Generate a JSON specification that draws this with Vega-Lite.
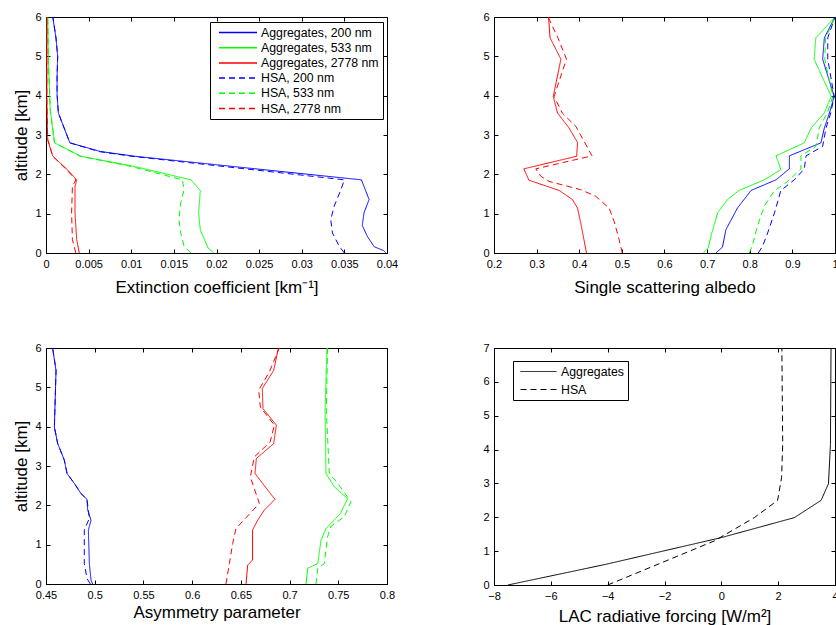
{
  "$schema": "https://vega.github.io/schema/vega-lite/v6.json",
  "padding": {"left": 12, "top": 10, "right": 0, "bottom": 0},
  "config": {
    "font": "Liberation Sans",
    "view": {"stroke": "black", "strokeWidth": 1},
    "axis": {
      "grid": false,
      "labelFont": "Liberation Sans",
      "labelFontSize": 11,
      "labelColor": "black",
      "titleFont": "Liberation Sans",
      "titleFontSize": 17,
      "titleFontWeight": "normal",
      "titleColor": "black",
      "tickColor": "black",
      "tickSize": -4,
      "domainColor": "black",
      "labelPadding": 9,
      "labelFlush": false,
      "labelOverlap": false
    },
    "axisX": {"titlePadding": 10},
    "legend": {
      "labelFont": "Liberation Sans",
      "labelColor": "black"
    }
  },
  "datasets": {
    "p1": [
      {"series": "Aggregates, 200 nm", "alt": 6, "v": 0.0008},
      {"series": "Aggregates, 200 nm", "alt": 5.47, "v": 0.00117},
      {"series": "Aggregates, 200 nm", "alt": 5.0, "v": 0.00137},
      {"series": "Aggregates, 200 nm", "alt": 4.49, "v": 0.0013},
      {"series": "Aggregates, 200 nm", "alt": 4.03, "v": 0.0013},
      {"series": "Aggregates, 200 nm", "alt": 3.56, "v": 0.00145},
      {"series": "Aggregates, 200 nm", "alt": 2.8, "v": 0.0028},
      {"series": "Aggregates, 200 nm", "alt": 2.58, "v": 0.0064},
      {"series": "Aggregates, 200 nm", "alt": 2.46, "v": 0.0104},
      {"series": "Aggregates, 200 nm", "alt": 1.86, "v": 0.037},
      {"series": "Aggregates, 200 nm", "alt": 1.36, "v": 0.0379},
      {"series": "Aggregates, 200 nm", "alt": 1.02, "v": 0.0373},
      {"series": "Aggregates, 200 nm", "alt": 0.7, "v": 0.0371},
      {"series": "Aggregates, 200 nm", "alt": 0.42, "v": 0.0377},
      {"series": "Aggregates, 200 nm", "alt": 0.16, "v": 0.0385},
      {"series": "Aggregates, 200 nm", "alt": 0.06, "v": 0.0396},
      {"series": "Aggregates, 200 nm", "alt": 0, "v": 0.0399},
      {"series": "Aggregates, 533 nm", "alt": 6, "v": 0.0002},
      {"series": "Aggregates, 533 nm", "alt": 4.75, "v": 0.0003},
      {"series": "Aggregates, 533 nm", "alt": 3.64, "v": 0.0005},
      {"series": "Aggregates, 533 nm", "alt": 2.8, "v": 0.001},
      {"series": "Aggregates, 533 nm", "alt": 2.46, "v": 0.0041},
      {"series": "Aggregates, 533 nm", "alt": 2.2, "v": 0.0104},
      {"series": "Aggregates, 533 nm", "alt": 1.86, "v": 0.017},
      {"series": "Aggregates, 533 nm", "alt": 1.59, "v": 0.0181},
      {"series": "Aggregates, 533 nm", "alt": 1.02, "v": 0.0179},
      {"series": "Aggregates, 533 nm", "alt": 0.59, "v": 0.0181},
      {"series": "Aggregates, 533 nm", "alt": 0.34, "v": 0.0186},
      {"series": "Aggregates, 533 nm", "alt": 0.13, "v": 0.019},
      {"series": "Aggregates, 533 nm", "alt": 0, "v": 0.0197},
      {"series": "Aggregates, 2778 nm", "alt": 6, "v": 0.0001},
      {"series": "Aggregates, 2778 nm", "alt": 3.9, "v": 0.0001},
      {"series": "Aggregates, 2778 nm", "alt": 2.88, "v": 0.0002},
      {"series": "Aggregates, 2778 nm", "alt": 2.46, "v": 0.0008},
      {"series": "Aggregates, 2778 nm", "alt": 2.12, "v": 0.0025},
      {"series": "Aggregates, 2778 nm", "alt": 1.86, "v": 0.0036},
      {"series": "Aggregates, 2778 nm", "alt": 1.69, "v": 0.0034},
      {"series": "Aggregates, 2778 nm", "alt": 1.02, "v": 0.0034},
      {"series": "Aggregates, 2778 nm", "alt": 0.34, "v": 0.0036},
      {"series": "Aggregates, 2778 nm", "alt": 0, "v": 0.0039},
      {"series": "HSA, 200 nm", "alt": 6, "v": 0.0008},
      {"series": "HSA, 200 nm", "alt": 5.47, "v": 0.00117},
      {"series": "HSA, 200 nm", "alt": 5.0, "v": 0.00137},
      {"series": "HSA, 200 nm", "alt": 4.49, "v": 0.0013},
      {"series": "HSA, 200 nm", "alt": 4.03, "v": 0.0013},
      {"series": "HSA, 200 nm", "alt": 3.56, "v": 0.00145},
      {"series": "HSA, 200 nm", "alt": 2.8, "v": 0.0028},
      {"series": "HSA, 200 nm", "alt": 2.58, "v": 0.0062},
      {"series": "HSA, 200 nm", "alt": 2.46, "v": 0.01},
      {"series": "HSA, 200 nm", "alt": 1.86, "v": 0.035},
      {"series": "HSA, 200 nm", "alt": 1.61, "v": 0.0346},
      {"series": "HSA, 200 nm", "alt": 1.19, "v": 0.0338},
      {"series": "HSA, 200 nm", "alt": 0.85, "v": 0.0334},
      {"series": "HSA, 200 nm", "alt": 0.51, "v": 0.0336},
      {"series": "HSA, 200 nm", "alt": 0.17, "v": 0.0344},
      {"series": "HSA, 200 nm", "alt": 0, "v": 0.035},
      {"series": "HSA, 533 nm", "alt": 6, "v": 0.0002},
      {"series": "HSA, 533 nm", "alt": 4.75, "v": 0.0003},
      {"series": "HSA, 533 nm", "alt": 3.64, "v": 0.0005},
      {"series": "HSA, 533 nm", "alt": 2.8, "v": 0.001},
      {"series": "HSA, 533 nm", "alt": 2.46, "v": 0.004},
      {"series": "HSA, 533 nm", "alt": 2.2, "v": 0.01},
      {"series": "HSA, 533 nm", "alt": 1.86, "v": 0.016},
      {"series": "HSA, 533 nm", "alt": 1.61, "v": 0.0162},
      {"series": "HSA, 533 nm", "alt": 1.27, "v": 0.0158},
      {"series": "HSA, 533 nm", "alt": 0.85, "v": 0.0156},
      {"series": "HSA, 533 nm", "alt": 0.51, "v": 0.0158},
      {"series": "HSA, 533 nm", "alt": 0.17, "v": 0.0162},
      {"series": "HSA, 533 nm", "alt": 0, "v": 0.017},
      {"series": "HSA, 2778 nm", "alt": 6, "v": 0.0001},
      {"series": "HSA, 2778 nm", "alt": 3.9, "v": 0.0001},
      {"series": "HSA, 2778 nm", "alt": 2.88, "v": 0.0002},
      {"series": "HSA, 2778 nm", "alt": 2.46, "v": 0.0008},
      {"series": "HSA, 2778 nm", "alt": 2.12, "v": 0.0024},
      {"series": "HSA, 2778 nm", "alt": 1.86, "v": 0.0035},
      {"series": "HSA, 2778 nm", "alt": 1.69, "v": 0.0031},
      {"series": "HSA, 2778 nm", "alt": 1.02, "v": 0.003},
      {"series": "HSA, 2778 nm", "alt": 0.34, "v": 0.0031},
      {"series": "HSA, 2778 nm", "alt": 0, "v": 0.0035}
    ],
    "p2": [
      {"series": "Aggregates, 2778 nm", "alt": 6, "v": 0.328},
      {"series": "Aggregates, 2778 nm", "alt": 5.47, "v": 0.3315},
      {"series": "Aggregates, 2778 nm", "alt": 4.93, "v": 0.357},
      {"series": "Aggregates, 2778 nm", "alt": 3.98, "v": 0.339},
      {"series": "Aggregates, 2778 nm", "alt": 3.56, "v": 0.349},
      {"series": "Aggregates, 2778 nm", "alt": 3.18, "v": 0.376},
      {"series": "Aggregates, 2778 nm", "alt": 2.81, "v": 0.396},
      {"series": "Aggregates, 2778 nm", "alt": 2.46, "v": 0.394},
      {"series": "Aggregates, 2778 nm", "alt": 2.14, "v": 0.27},
      {"series": "Aggregates, 2778 nm", "alt": 1.85, "v": 0.282},
      {"series": "Aggregates, 2778 nm", "alt": 1.59, "v": 0.353},
      {"series": "Aggregates, 2778 nm", "alt": 1.36, "v": 0.384},
      {"series": "Aggregates, 2778 nm", "alt": 1.14, "v": 0.396},
      {"series": "Aggregates, 2778 nm", "alt": 0.76, "v": 0.4035},
      {"series": "Aggregates, 2778 nm", "alt": 0.34, "v": 0.411},
      {"series": "Aggregates, 2778 nm", "alt": 0, "v": 0.417},
      {"series": "HSA, 2778 nm", "alt": 6, "v": 0.327},
      {"series": "HSA, 2778 nm", "alt": 5.47, "v": 0.35},
      {"series": "HSA, 2778 nm", "alt": 4.93, "v": 0.37},
      {"series": "HSA, 2778 nm", "alt": 3.98, "v": 0.341},
      {"series": "HSA, 2778 nm", "alt": 3.56, "v": 0.36},
      {"series": "HSA, 2778 nm", "alt": 3.22, "v": 0.392},
      {"series": "HSA, 2778 nm", "alt": 2.47, "v": 0.43},
      {"series": "HSA, 2778 nm", "alt": 2.14, "v": 0.298},
      {"series": "HSA, 2778 nm", "alt": 1.95, "v": 0.31},
      {"series": "HSA, 2778 nm", "alt": 1.82, "v": 0.329},
      {"series": "HSA, 2778 nm", "alt": 1.61, "v": 0.4035},
      {"series": "HSA, 2778 nm", "alt": 1.44, "v": 0.439},
      {"series": "HSA, 2778 nm", "alt": 1.14, "v": 0.47},
      {"series": "HSA, 2778 nm", "alt": 0.8, "v": 0.482},
      {"series": "HSA, 2778 nm", "alt": 0.34, "v": 0.4935},
      {"series": "HSA, 2778 nm", "alt": 0, "v": 0.501},
      {"series": "Aggregates, 533 nm", "alt": 6, "v": 1.0},
      {"series": "Aggregates, 533 nm", "alt": 5.47, "v": 0.955},
      {"series": "Aggregates, 533 nm", "alt": 4.93, "v": 0.951},
      {"series": "Aggregates, 533 nm", "alt": 3.98, "v": 0.991},
      {"series": "Aggregates, 533 nm", "alt": 3.56, "v": 0.975},
      {"series": "Aggregates, 533 nm", "alt": 3.18, "v": 0.944},
      {"series": "Aggregates, 533 nm", "alt": 2.8, "v": 0.928},
      {"series": "Aggregates, 533 nm", "alt": 2.47, "v": 0.8615},
      {"series": "Aggregates, 533 nm", "alt": 2.12, "v": 0.873},
      {"series": "Aggregates, 533 nm", "alt": 1.86, "v": 0.834},
      {"series": "Aggregates, 533 nm", "alt": 1.59, "v": 0.775},
      {"series": "Aggregates, 533 nm", "alt": 1.36, "v": 0.748},
      {"series": "Aggregates, 533 nm", "alt": 1.02, "v": 0.7245},
      {"series": "Aggregates, 533 nm", "alt": 0.47, "v": 0.71},
      {"series": "Aggregates, 533 nm", "alt": 0.13, "v": 0.7025},
      {"series": "Aggregates, 533 nm", "alt": 0, "v": 0.6915},
      {"series": "Aggregates, 200 nm", "alt": 6, "v": 1.0},
      {"series": "Aggregates, 200 nm", "alt": 5.47, "v": 0.975},
      {"series": "Aggregates, 200 nm", "alt": 4.93, "v": 0.971},
      {"series": "Aggregates, 200 nm", "alt": 3.98, "v": 0.998},
      {"series": "Aggregates, 200 nm", "alt": 3.56, "v": 0.987},
      {"series": "Aggregates, 200 nm", "alt": 3.18, "v": 0.975},
      {"series": "Aggregates, 200 nm", "alt": 2.8, "v": 0.967},
      {"series": "Aggregates, 200 nm", "alt": 2.47, "v": 0.893},
      {"series": "Aggregates, 200 nm", "alt": 2.14, "v": 0.893},
      {"series": "Aggregates, 200 nm", "alt": 1.86, "v": 0.8615},
      {"series": "Aggregates, 200 nm", "alt": 1.59, "v": 0.803},
      {"series": "Aggregates, 200 nm", "alt": 1.14, "v": 0.771},
      {"series": "Aggregates, 200 nm", "alt": 0.59, "v": 0.744},
      {"series": "Aggregates, 200 nm", "alt": 0.15, "v": 0.736},
      {"series": "Aggregates, 200 nm", "alt": 0, "v": 0.7205},
      {"series": "HSA, 200 nm", "alt": 6, "v": 1.0},
      {"series": "HSA, 200 nm", "alt": 5.47, "v": 0.983},
      {"series": "HSA, 200 nm", "alt": 4.93, "v": 0.983},
      {"series": "HSA, 200 nm", "alt": 3.98, "v": 0.998},
      {"series": "HSA, 200 nm", "alt": 3.56, "v": 0.99},
      {"series": "HSA, 200 nm", "alt": 3.18, "v": 0.979},
      {"series": "HSA, 200 nm", "alt": 2.71, "v": 0.971},
      {"series": "HSA, 200 nm", "alt": 2.47, "v": 0.932},
      {"series": "HSA, 200 nm", "alt": 2.14, "v": 0.928},
      {"series": "HSA, 200 nm", "alt": 1.86, "v": 0.9045},
      {"series": "HSA, 200 nm", "alt": 1.59, "v": 0.873},
      {"series": "HSA, 200 nm", "alt": 1.02, "v": 0.858},
      {"series": "HSA, 200 nm", "alt": 0.51, "v": 0.842},
      {"series": "HSA, 200 nm", "alt": 0.17, "v": 0.83},
      {"series": "HSA, 200 nm", "alt": 0, "v": 0.82},
      {"series": "HSA, 533 nm", "alt": 6, "v": 1.0},
      {"series": "HSA, 533 nm", "alt": 5.47, "v": 0.978},
      {"series": "HSA, 533 nm", "alt": 4.93, "v": 0.976},
      {"series": "HSA, 533 nm", "alt": 3.98, "v": 0.995},
      {"series": "HSA, 533 nm", "alt": 3.56, "v": 0.982},
      {"series": "HSA, 533 nm", "alt": 3.18, "v": 0.963},
      {"series": "HSA, 533 nm", "alt": 2.71, "v": 0.955},
      {"series": "HSA, 533 nm", "alt": 2.47, "v": 0.92},
      {"series": "HSA, 533 nm", "alt": 2.14, "v": 0.92},
      {"series": "HSA, 533 nm", "alt": 1.82, "v": 0.889},
      {"series": "HSA, 533 nm", "alt": 1.57, "v": 0.857},
      {"series": "HSA, 533 nm", "alt": 1.19, "v": 0.834},
      {"series": "HSA, 533 nm", "alt": 0.68, "v": 0.818},
      {"series": "HSA, 533 nm", "alt": 0.21, "v": 0.8066},
      {"series": "HSA, 533 nm", "alt": 0, "v": 0.799}
    ],
    "p3": [
      {"series": "Aggregates, 200 nm", "alt": 6, "v": 0.4568},
      {"series": "Aggregates, 200 nm", "alt": 5.43, "v": 0.4603},
      {"series": "Aggregates, 200 nm", "alt": 4.5, "v": 0.4592},
      {"series": "Aggregates, 200 nm", "alt": 3.99, "v": 0.4586},
      {"series": "Aggregates, 200 nm", "alt": 3.57, "v": 0.462},
      {"series": "Aggregates, 200 nm", "alt": 3.15, "v": 0.4688},
      {"series": "Aggregates, 200 nm", "alt": 2.81, "v": 0.4716},
      {"series": "Aggregates, 200 nm", "alt": 2.56, "v": 0.479},
      {"series": "Aggregates, 200 nm", "alt": 2.3, "v": 0.4859},
      {"series": "Aggregates, 200 nm", "alt": 2.15, "v": 0.4921},
      {"series": "Aggregates, 200 nm", "alt": 1.88, "v": 0.4928},
      {"series": "Aggregates, 200 nm", "alt": 1.62, "v": 0.4962},
      {"series": "Aggregates, 200 nm", "alt": 1.37, "v": 0.4935},
      {"series": "Aggregates, 200 nm", "alt": 0.52, "v": 0.4945},
      {"series": "Aggregates, 200 nm", "alt": 0.1, "v": 0.4962},
      {"series": "Aggregates, 200 nm", "alt": 0, "v": 0.4979},
      {"series": "HSA, 200 nm", "alt": 6, "v": 0.4568},
      {"series": "HSA, 200 nm", "alt": 5.43, "v": 0.4603},
      {"series": "HSA, 200 nm", "alt": 4.5, "v": 0.4592},
      {"series": "HSA, 200 nm", "alt": 3.99, "v": 0.4586},
      {"series": "HSA, 200 nm", "alt": 3.57, "v": 0.462},
      {"series": "HSA, 200 nm", "alt": 3.15, "v": 0.4688},
      {"series": "HSA, 200 nm", "alt": 2.81, "v": 0.4716},
      {"series": "HSA, 200 nm", "alt": 2.56, "v": 0.479},
      {"series": "HSA, 200 nm", "alt": 2.3, "v": 0.4859},
      {"series": "HSA, 200 nm", "alt": 2.15, "v": 0.4921},
      {"series": "HSA, 200 nm", "alt": 1.67, "v": 0.4945},
      {"series": "HSA, 200 nm", "alt": 1.37, "v": 0.4893},
      {"series": "HSA, 200 nm", "alt": 0.52, "v": 0.4893},
      {"series": "HSA, 200 nm", "alt": 0.14, "v": 0.4921},
      {"series": "HSA, 200 nm", "alt": 0, "v": 0.4955},
      {"series": "Aggregates, 2778 nm", "alt": 6, "v": 0.6885},
      {"series": "Aggregates, 2778 nm", "alt": 5.43, "v": 0.6837},
      {"series": "Aggregates, 2778 nm", "alt": 4.97, "v": 0.672},
      {"series": "Aggregates, 2778 nm", "alt": 4.46, "v": 0.6727},
      {"series": "Aggregates, 2778 nm", "alt": 4.04, "v": 0.6864},
      {"series": "Aggregates, 2778 nm", "alt": 3.57, "v": 0.6837},
      {"series": "Aggregates, 2778 nm", "alt": 3.19, "v": 0.6659},
      {"series": "Aggregates, 2778 nm", "alt": 2.81, "v": 0.6645},
      {"series": "Aggregates, 2778 nm", "alt": 2.15, "v": 0.685},
      {"series": "Aggregates, 2778 nm", "alt": 1.88, "v": 0.6741},
      {"series": "Aggregates, 2778 nm", "alt": 1.62, "v": 0.6672},
      {"series": "Aggregates, 2778 nm", "alt": 1.37, "v": 0.662},
      {"series": "Aggregates, 2778 nm", "alt": 0.61, "v": 0.662},
      {"series": "Aggregates, 2778 nm", "alt": 0.48, "v": 0.657},
      {"series": "Aggregates, 2778 nm", "alt": 0, "v": 0.6553},
      {"series": "HSA, 2778 nm", "alt": 6, "v": 0.6895},
      {"series": "HSA, 2778 nm", "alt": 5.39, "v": 0.6792},
      {"series": "HSA, 2778 nm", "alt": 4.93, "v": 0.6683},
      {"series": "HSA, 2778 nm", "alt": 4.5, "v": 0.67},
      {"series": "HSA, 2778 nm", "alt": 4.04, "v": 0.6844},
      {"series": "HSA, 2778 nm", "alt": 3.61, "v": 0.68},
      {"series": "HSA, 2778 nm", "alt": 3.23, "v": 0.6638},
      {"series": "HSA, 2778 nm", "alt": 2.72, "v": 0.6597},
      {"series": "HSA, 2778 nm", "alt": 2.05, "v": 0.669},
      {"series": "HSA, 2778 nm", "alt": 1.41, "v": 0.645},
      {"series": "HSA, 2778 nm", "alt": 1.03, "v": 0.6416},
      {"series": "HSA, 2778 nm", "alt": 0.52, "v": 0.6382},
      {"series": "HSA, 2778 nm", "alt": 0, "v": 0.6347},
      {"series": "Aggregates, 533 nm", "alt": 6, "v": 0.7384},
      {"series": "Aggregates, 533 nm", "alt": 4.42, "v": 0.7364},
      {"series": "Aggregates, 533 nm", "alt": 2.81, "v": 0.7374},
      {"series": "Aggregates, 533 nm", "alt": 2.47, "v": 0.746},
      {"series": "Aggregates, 533 nm", "alt": 2.17, "v": 0.7596},
      {"series": "Aggregates, 533 nm", "alt": 1.79, "v": 0.7521},
      {"series": "Aggregates, 533 nm", "alt": 1.41, "v": 0.7374},
      {"series": "Aggregates, 533 nm", "alt": 1.12, "v": 0.7323},
      {"series": "Aggregates, 533 nm", "alt": 0.52, "v": 0.7289},
      {"series": "Aggregates, 533 nm", "alt": 0.4, "v": 0.7186},
      {"series": "Aggregates, 533 nm", "alt": 0, "v": 0.7169},
      {"series": "HSA, 533 nm", "alt": 6, "v": 0.739},
      {"series": "HSA, 533 nm", "alt": 4.42, "v": 0.7377},
      {"series": "HSA, 533 nm", "alt": 2.81, "v": 0.7408},
      {"series": "HSA, 533 nm", "alt": 2.56, "v": 0.7494},
      {"series": "HSA, 533 nm", "alt": 2.09, "v": 0.763},
      {"series": "HSA, 533 nm", "alt": 1.71, "v": 0.7562},
      {"series": "HSA, 533 nm", "alt": 1.47, "v": 0.7425},
      {"series": "HSA, 533 nm", "alt": 1.2, "v": 0.739},
      {"series": "HSA, 533 nm", "alt": 0.52, "v": 0.7357},
      {"series": "HSA, 533 nm", "alt": 0.4, "v": 0.7289},
      {"series": "HSA, 533 nm", "alt": 0, "v": 0.7271}
    ],
    "p4": [
      {"series": "Aggregates", "alt": 0, "v": -7.51},
      {"series": "Aggregates", "alt": 0.61, "v": -4.07},
      {"series": "Aggregates", "alt": 1.4, "v": 0.0},
      {"series": "Aggregates", "alt": 1.99, "v": 2.57},
      {"series": "Aggregates", "alt": 2.5, "v": 3.51},
      {"series": "Aggregates", "alt": 2.99, "v": 3.77},
      {"series": "Aggregates", "alt": 4.15, "v": 3.84},
      {"series": "Aggregates", "alt": 7, "v": 3.86},
      {"series": "HSA", "alt": 0, "v": -4.0},
      {"series": "HSA", "alt": 1.3, "v": -0.25},
      {"series": "HSA", "alt": 1.99, "v": 1.16},
      {"series": "HSA", "alt": 2.5, "v": 1.98},
      {"series": "HSA", "alt": 3.17, "v": 2.12},
      {"series": "HSA", "alt": 4.15, "v": 2.16},
      {"series": "HSA", "alt": 7, "v": 2.13}
    ]
  },
  "columns": 2,
  "bounds": "flush",
  "spacing": {"row": 95, "column": 107},
  "resolve": {"scale": {"color": "independent", "strokeDash": "independent"}, "legend": {"color": "independent", "strokeDash": "independent"}},
  "concat": [
    {
      "width": 341, "height": 236,
      "data": {"name": "p1"},
      "layer": [
        {
          "mark": {"type": "line", "strokeWidth": 1, "clip": true},
          "encoding": {
            "x": {"field": "v", "type": "quantitative", "scale": {"domain": [0, 0.04], "nice": false, "zero": false},
                  "axis": {"title": "Extinction coefficient [km⁻¹]", "values": [0, 0.005, 0.01, 0.015, 0.02, 0.025, 0.03, 0.035, 0.04], "format": "~g"}},
            "y": {"field": "alt", "type": "quantitative", "scale": {"domain": [0, 6], "nice": false, "zero": false},
                  "axis": {"title": "altitude [km]", "values": [0, 1, 2, 3, 4, 5, 6], "format": "d"}},
            "order": {"field": "alt", "type": "quantitative"},
            "color": {"field": "series", "type": "nominal",
                      "scale": {"domain": ["Aggregates, 200 nm", "Aggregates, 533 nm", "Aggregates, 2778 nm", "HSA, 200 nm", "HSA, 533 nm", "HSA, 2778 nm"],
                                "range": ["#0000ff", "#00ff00", "#ff0000", "#0000ff", "#00ff00", "#ff0000"]},
                      "legend": {"title": null, "orient": "none", "legendX": 164, "legendY": 5, "symbolType": "stroke", "symbolSize": 1444, "symbolStrokeWidth": 1.5,
                                 "labelFontSize": 12.3, "clipHeight": 13, "rowPadding": 2.2, "strokeColor": "black", "fillColor": "white", "padding": 4, "symbolOffset": 4, "labelOffset": 3}},
            "strokeDash": {"field": "series", "type": "nominal",
                      "scale": {"domain": ["Aggregates, 200 nm", "Aggregates, 533 nm", "Aggregates, 2778 nm", "HSA, 200 nm", "HSA, 533 nm", "HSA, 2778 nm"],
                                "range": [[1, 0], [1, 0], [1, 0], [6, 4], [6, 4], [6, 4]]},
                      "legend": {"title": null, "orient": "none", "legendX": 164, "legendY": 5, "symbolType": "stroke", "symbolSize": 1444, "symbolStrokeWidth": 1.5,
                                 "labelFontSize": 12.3, "clipHeight": 13, "rowPadding": 2.2, "strokeColor": "black", "fillColor": "white", "padding": 4, "symbolOffset": 4, "labelOffset": 3}}
          }
        },
        {
          "mark": {"type": "line", "opacity": 0},
          "encoding": {
            "x": {"field": "v", "type": "quantitative", "axis": {"orient": "top", "title": null, "labels": false, "domain": false, "values": [0, 0.005, 0.01, 0.015, 0.02, 0.025, 0.03, 0.035, 0.04]}},
            "y": {"field": "alt", "type": "quantitative", "axis": {"orient": "right", "title": null, "labels": false, "domain": false, "values": [0, 1, 2, 3, 4, 5, 6]}},
            "detail": {"field": "series"}
          }
        }
      ],
      "resolve": {"axis": {"x": "independent", "y": "independent"}}
    },
    {
      "width": 341, "height": 236,
      "data": {"name": "p2"},
      "layer": [
        {
          "mark": {"type": "line", "strokeWidth": 1, "clip": true},
          "encoding": {
            "x": {"field": "v", "type": "quantitative", "scale": {"domain": [0.2, 1], "nice": false, "zero": false},
                  "axis": {"title": "Single scattering albedo", "values": [0.2, 0.3, 0.4, 0.5, 0.6, 0.7, 0.8, 0.9, 1], "format": "~g"}},
            "y": {"field": "alt", "type": "quantitative", "scale": {"domain": [0, 6], "nice": false, "zero": false},
                  "axis": {"title": null, "values": [0, 1, 2, 3, 4, 5, 6], "format": "d"}},
            "order": {"field": "alt", "type": "quantitative"},
            "color": {"field": "series", "type": "nominal",
                      "scale": {"domain": ["Aggregates, 200 nm", "Aggregates, 533 nm", "Aggregates, 2778 nm", "HSA, 200 nm", "HSA, 533 nm", "HSA, 2778 nm"],
                                "range": ["#0000ff", "#00ff00", "#ff0000", "#0000ff", "#00ff00", "#ff0000"]}, "legend": null},
            "strokeDash": {"field": "series", "type": "nominal",
                      "scale": {"domain": ["Aggregates, 200 nm", "Aggregates, 533 nm", "Aggregates, 2778 nm", "HSA, 200 nm", "HSA, 533 nm", "HSA, 2778 nm"],
                                "range": [[1, 0], [1, 0], [1, 0], [6, 4], [6, 4], [6, 4]]}, "legend": null}
          }
        },
        {
          "mark": {"type": "line", "opacity": 0},
          "encoding": {
            "x": {"field": "v", "type": "quantitative", "axis": {"orient": "top", "title": null, "labels": false, "domain": false, "values": [0.2, 0.3, 0.4, 0.5, 0.6, 0.7, 0.8, 0.9, 1]}},
            "y": {"field": "alt", "type": "quantitative", "axis": {"orient": "right", "title": null, "labels": false, "domain": false, "values": [0, 1, 2, 3, 4, 5, 6]}},
            "detail": {"field": "series"}
          }
        }
      ],
      "resolve": {"axis": {"x": "independent", "y": "independent"}}
    },
    {
      "width": 341, "height": 236,
      "data": {"name": "p3"},
      "layer": [
        {
          "mark": {"type": "line", "strokeWidth": 1, "clip": true},
          "encoding": {
            "x": {"field": "v", "type": "quantitative", "scale": {"domain": [0.45, 0.8], "nice": false, "zero": false},
                  "axis": {"title": "Asymmetry parameter", "titlePadding": 4, "values": [0.45, 0.5, 0.55, 0.6, 0.65, 0.7, 0.75, 0.8], "format": "~g"}},
            "y": {"field": "alt", "type": "quantitative", "scale": {"domain": [0, 6], "nice": false, "zero": false},
                  "axis": {"title": "altitude [km]", "values": [0, 1, 2, 3, 4, 5, 6], "format": "d"}},
            "order": {"field": "alt", "type": "quantitative"},
            "color": {"field": "series", "type": "nominal",
                      "scale": {"domain": ["Aggregates, 200 nm", "Aggregates, 533 nm", "Aggregates, 2778 nm", "HSA, 200 nm", "HSA, 533 nm", "HSA, 2778 nm"],
                                "range": ["#0000ff", "#00ff00", "#ff0000", "#0000ff", "#00ff00", "#ff0000"]}, "legend": null},
            "strokeDash": {"field": "series", "type": "nominal",
                      "scale": {"domain": ["Aggregates, 200 nm", "Aggregates, 533 nm", "Aggregates, 2778 nm", "HSA, 200 nm", "HSA, 533 nm", "HSA, 2778 nm"],
                                "range": [[1, 0], [1, 0], [1, 0], [6, 4], [6, 4], [6, 4]]}, "legend": null}
          }
        },
        {
          "mark": {"type": "line", "opacity": 0},
          "encoding": {
            "x": {"field": "v", "type": "quantitative", "axis": {"orient": "top", "title": null, "labels": false, "domain": false, "values": [0.45, 0.5, 0.55, 0.6, 0.65, 0.7, 0.75, 0.8]}},
            "y": {"field": "alt", "type": "quantitative", "axis": {"orient": "right", "title": null, "labels": false, "domain": false, "values": [0, 1, 2, 3, 4, 5, 6]}},
            "detail": {"field": "series"}
          }
        }
      ],
      "resolve": {"axis": {"x": "independent", "y": "independent"}}
    },
    {
      "width": 341, "height": 237,
      "data": {"name": "p4"},
      "layer": [
        {
          "mark": {"type": "line", "strokeWidth": 1, "clip": true, "color": "black"},
          "encoding": {
            "x": {"field": "v", "type": "quantitative", "scale": {"domain": [-8, 4], "nice": false, "zero": false},
                  "axis": {"title": "LAC radiative forcing [W/m²]", "titlePadding": 7, "values": [-8, -6, -4, -2, 0, 2, 4], "format": "~g"}},
            "y": {"field": "alt", "type": "quantitative", "scale": {"domain": [0, 7], "nice": false, "zero": false},
                  "axis": {"title": null, "values": [0, 1, 2, 3, 4, 5, 6, 7], "format": "d"}},
            "order": {"field": "alt", "type": "quantitative"},
            "strokeDash": {"field": "series", "type": "nominal",
                      "scale": {"domain": ["Aggregates", "HSA"], "range": [[1, 0], [6, 4]]},
                      "legend": {"title": null, "orient": "none", "legendX": 19, "legendY": 13, "symbolType": "stroke", "symbolSize": 1296, "symbolStrokeWidth": 1, "symbolStrokeColor": "black",
                                 "labelFontSize": 12.3, "clipHeight": 13, "rowPadding": 5, "strokeColor": "black", "fillColor": "white", "padding": 4, "symbolOffset": 3, "labelOffset": 4}}
          }
        },
        {
          "mark": {"type": "line", "opacity": 0},
          "encoding": {
            "x": {"field": "v", "type": "quantitative", "axis": {"orient": "top", "title": null, "labels": false, "domain": false, "values": [-8, -6, -4, -2, 0, 2, 4]}},
            "y": {"field": "alt", "type": "quantitative", "axis": {"orient": "right", "title": null, "labels": false, "domain": false, "values": [0, 1, 2, 3, 4, 5, 6, 7]}},
            "detail": {"field": "series"}
          }
        }
      ],
      "resolve": {"axis": {"x": "independent", "y": "independent"}}
    }
  ]
}
